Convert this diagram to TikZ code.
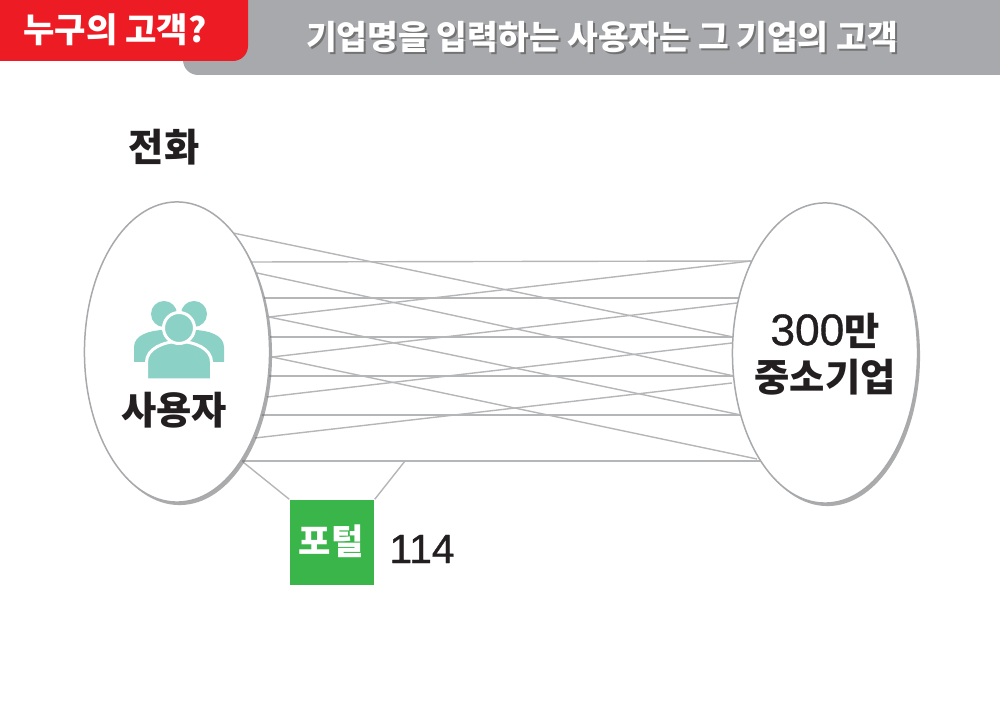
\documentclass[tikz,border=0pt]{standalone}
\usepackage{fontspec}
\setmainfont{Noto Sans CJK KR}
\newfontfamily\latinfont[FakeBold=0.8]{Liberation Sans}
\usetikzlibrary{shapes,shapes.geometric,positioning,shadows}

\definecolor{headred}{HTML}{ED1C24}
\definecolor{headgrey}{HTML}{A7A9AC}
\definecolor{linegrey}{HTML}{B5B6B8}
\definecolor{portalgreen}{HTML}{39B54A}
\definecolor{peopleteal}{HTML}{8CD1C6}
\definecolor{inkblack}{HTML}{231F20}

\begin{document}
\begin{tikzpicture}[%
x=0.01cm,
y=-0.01cm,
crowd/.style={draw=headgrey, line width=0.015cm, fill=white, ellipse, inner sep=0pt,
  minimum width=1.85cm, minimum height=3cm,
  drop shadow={shadow xshift=0.025cm, shadow yshift=-0.03cm, opacity=0.55, fill=black!60}},
link/.style={draw=linegrey, line width=0.014cm},
bigtext/.style={text=inkblack, font=\fontsize{10.9}{14}\selectfont\bfseries, align=center},
headtext/.style={font=\fontsize{9.5}{12}\selectfont\bfseries}
]
\useasboundingbox (0,0) rectangle (1000,707);

% header
\fill[headgrey, rounded corners=0.15cm] (183,-20) rectangle (1020,75);
\fill[headred, rounded corners=0.15cm] (-20,-20) rectangle (248,61);
\node[text=white, font=\fontsize{9.7}{12}\selectfont\bfseries] (who) at (115,30) {누구의 고객?};
\node[headtext, text=black!55] (titleshadow) at (604,39) {기업명을 입력하는 사용자는 그 기업의 고객};
\node[headtext, text=white] (title) at (602,37) {기업명을 입력하는 사용자는 그 기업의 고객};

% ends on the user side
\coordinate (u0) at (233,233);
\coordinate (u1) at (251,262);
\coordinate (u2) at (257,273);
\coordinate (u3) at (264,298);
\coordinate (u4) at (269,317);
\coordinate (u5) at (270,337);
\coordinate (u6) at (272,357);
\coordinate (u7) at (269,376);
\coordinate (u8) at (267,397);
\coordinate (u9) at (261,415);
\coordinate (u10) at (255,438);
\coordinate (u11) at (242,461);
\coordinate (u12) at (243,462);

% ends on the company side
\coordinate (c1) at (751,261);
\coordinate (c2) at (739,298);
\coordinate (c3) at (737,303);
\coordinate (c4) at (733,337);
\coordinate (c5) at (732,343);
\coordinate (c6) at (734,376);
\coordinate (c7) at (732,383);
\coordinate (c8) at (741,415);
\coordinate (c9) at (757,459);
\coordinate (c10) at (760,461);
\coordinate (c11) at (405,461);

% straight lines
\path (u1) edge [link] (c1);
\path (u3) edge [link] (c2);
\path (u5) edge [link] (c4);
\path (u7) edge [link] (c6);
\path (u9) edge [link] (c8);
\path (u11) edge [link] (c10);

% falling lines
\path (u0) edge [link] (c4);
\path (u2) edge [link] (c6);
\path (u4) edge [link] (c8);
\path (u6) edge [link] (c9);

% rising lines
\path (u4) edge [link] (c1);
\path (u6) edge [link] (c3);
\path (u8) edge [link] (c5);
\path (u10) edge [link] (c7);

% portal
\node[fill=portalgreen, minimum width=0.84cm, minimum height=0.85cm, inner sep=0pt] (portal) at (332,542.5) {};
\node[text=white, font=\fontsize{10}{12}\selectfont\bfseries] (portaltext) at (331,541) {포털};
\node[text=inkblack, font=\latinfont\fontsize{11.6}{14}\selectfont] (number) at (422,549) {114};
\path (u12) edge [link] (portal.north west);
\path (c11) edge [link] (portal.north east);

% the two groups
\node[crowd] (user) at (177,352) {};
\node[crowd] (company) at (825,353) {};
\node[bigtext] (companytext) at (825,354) {{\latinfont\mdseries\fontsize{12.6}{14}\selectfont 300}만\\[-0.03cm]중소기업};
\node[bigtext] (usertext) at (174,410) {사용자};
\node[bigtext] (phone) at (164,147) {전화};

% people icon
\fill[peopleteal] (164,314) circle (13);
\fill[peopleteal] (194,314) circle (13);
\fill[peopleteal] (134,362) -- (134,347) .. controls (134,335) and (150,330) .. (165,330) -- (193,330)
  .. controls (208,330) and (224,335) .. (224,347) -- (224,362) -- cycle;
\filldraw[fill=peopleteal, draw=white, line width=0.03cm] (146.5,380) -- (146.5,362)
  .. controls (146.5,349) and (163,341.5) .. (179,341.5)
  .. controls (195,341.5) and (211.5,349) .. (211.5,362) -- (211.5,380) -- cycle;
\filldraw[fill=peopleteal, draw=white, line width=0.03cm] (179,328) circle (15.5);
\end{tikzpicture}
\end{document}
